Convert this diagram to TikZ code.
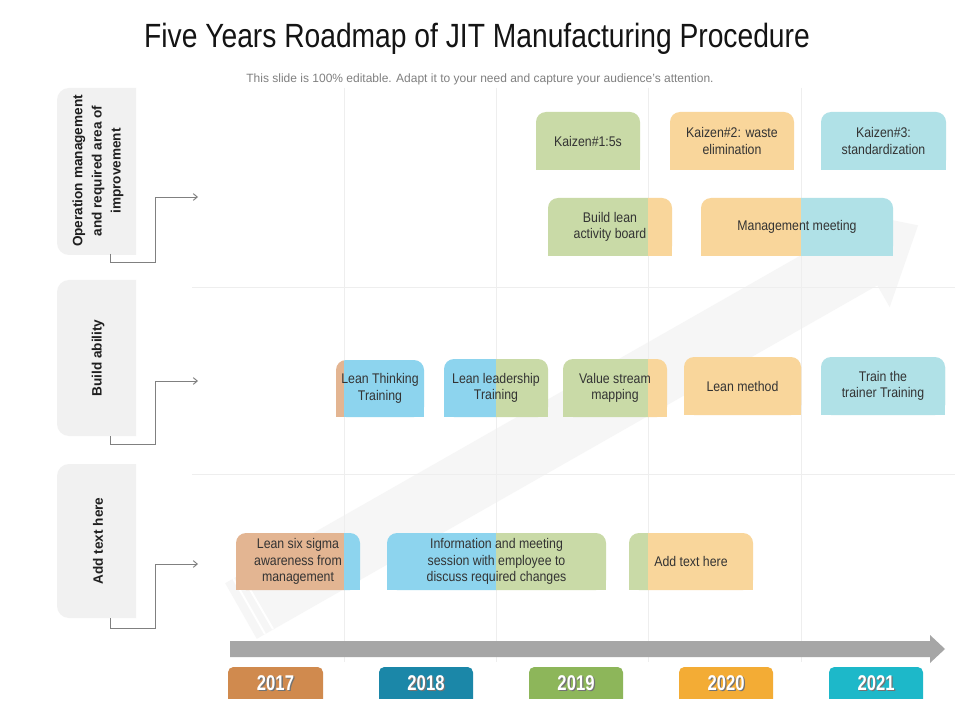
\documentclass[tikz,border=0pt]{standalone}
\usepackage{fontspec}
\setmainfont{Liberation Sans}
\newfontfamily\narrowfont{Liberation Sans}[FakeStretch=0.88]
\newfontfamily\yearfont{Liberation Sans}[FakeStretch=0.78]
\newfontfamily\titlefont{Liberation Sans}[FakeStretch=0.84]
\usetikzlibrary{arrows.meta}
\definecolor{cTan}{HTML}{E3B592}
\definecolor{cBlue}{HTML}{8DD4EE}
\definecolor{cGreen}{HTML}{C9DAA7}
\definecolor{cOrange}{HTML}{F9D69B}
\definecolor{cCyan}{HTML}{B0E1E7}
\definecolor{yTan}{HTML}{D08A4E}
\definecolor{yBlue}{HTML}{1B87A8}
\definecolor{yGreen}{HTML}{8DB65A}
\definecolor{yOrange}{HTML}{F3AC35}
\definecolor{yCyan}{HTML}{1DB8C9}
\definecolor{labelbg}{HTML}{F1F1F1}
\definecolor{gridc}{HTML}{EEEEEE}
\definecolor{bgarrow}{HTML}{F6F6F6}
\definecolor{tline}{HTML}{A6A6A6}
\definecolor{conn}{HTML}{808080}
\definecolor{txt}{HTML}{333333}
\tikzset{
  boxtext/.style={font=\narrowfont\fontsize{10.5}{12.4}\selectfont, text=txt, align=center, inner sep=0pt},
  labeltext/.style={font=\bfseries\fontsize{10.2}{14.3}\selectfont, text=black!88, align=center, rotate=90, inner sep=0pt},
  yeartext/.style={font=\yearfont\bfseries\fontsize{16}{18}\selectfont, text=white, inner sep=0pt},
  yearshadow/.style={font=\yearfont\bfseries\fontsize{16}{18}\selectfont, text=black!55, inner sep=0pt},
  connline/.style={draw=conn, line width=0.7pt, -{Straight Barb[length=3pt,width=5pt]}},
  gridline/.style={draw=gridc, line width=0.6pt}
}
\newcommand\tlbox[9]{%
  \begin{scope}
    \clip (#2,#3) rectangle (#6,#5);
    \fill[#7, rounded corners=7.5pt] (#2,#3) rectangle (#4,#5);
    \fill[#7] (#2,{(#3+#5)/2}) rectangle (#4,#5);
  \end{scope}
  \begin{scope}
    \clip (#6,#3) rectangle (#4,#5);
    \fill[#8, rounded corners=7.5pt] (#2,#3) rectangle (#4,#5);
    \fill[#8] (#2,{(#3+#5)/2}) rectangle (#4,#5);
  \end{scope}
  \node[boxtext] (#1) at ({(#2+#4)/2},{(#3+#5)/2}) {#9};
}
\newcommand\yearbox[5]{%
  \begin{scope}
    \clip (#2,667) rectangle (#3,698);
    \fill[#4, rounded corners=4pt] (#2,667) rectangle (#3,710);
  \end{scope}
  \node[yearshadow] (#1s) at ({(#2+#3)/2+1.3},684.3) {#5};
  \node[yeartext] (#1) at ({(#2+#3)/2},683) {#5};
}
\newcommand\labelbox[3]{%
  \begin{scope}
    \clip (57,#1) rectangle (136,#2);
    \fill[labelbg, rounded corners=9pt] (57,#1) rectangle (170,#2);
  \end{scope}
}
\begin{document}
\begin{tikzpicture}[x=0.75pt,y=-0.75pt]
\useasboundingbox (0,0) rectangle (960,720);
\fill[white] (0,0) rectangle (960,720);

% faint background arrow
\fill[bgarrow] (225.2,583.2) -- (845.7,229.8) -- (833.3,208.1) -- (918,225.4)
  -- (889.7,307.1) -- (877.3,285.4) -- (256.8,638.8) -- cycle;
\draw[white, line width=1.5pt] (233,578) -- (265,634);
\draw[white, line width=1.5pt] (241,574) -- (273,629);

% grid
\foreach \gx in {344,496,648,801} { \draw[gridline] (\gx,88) -- (\gx,662); }
\draw[gridline] (192,287) -- (955,287);
\draw[gridline] (192,474) -- (955,474);

% title
\node[font=\titlefont\fontsize{25.2}{30}\selectfont, text=black!92, inner sep=0pt] (title) at (477,39) {Five Years Roadmap of JIT Manufacturing Procedure};
\node[font=\fontsize{9}{10}\selectfont, text=black!50, inner sep=0pt] (subtitle) at (480,79) {This slide is 100\% editable. Adapt it to your need and capture your audience’s attention.};

% left labels
\labelbox{88}{255}{}
\labelbox{280}{436}{}
\labelbox{464}{618}{}
\node[labeltext] (lab1) at (98,171) {Operation management\\and required area of\\improvement};
\node[labeltext] (lab2) at (98,358) {Build ability};
\node[labeltext] (lab3) at (98,541) {Add text here};

\coordinate (s1) at (110,254); \coordinate (e1) at (198,197);
\coordinate (s2) at (110,436); \coordinate (e2) at (198,381);
\coordinate (s3) at (110,618); \coordinate (e3) at (198,564);
\draw[connline] (s1) |- (155,262) |- (e1);
\draw[connline] (s2) |- (155,444) |- (e2);
\draw[connline] (s3) |- (155,628) |- (e3);

% boxes
\tlbox{k1}{536}{112}{640}{170}{640}{cGreen}{cGreen}{Kaizen\#1:5s}
\tlbox{k2}{670}{112}{794}{170}{794}{cOrange}{cOrange}{Kaizen\#2: waste\\elimination}
\tlbox{k3}{821}{112}{946}{170}{946}{cCyan}{cCyan}{Kaizen\#3:\\standardization}
\tlbox{b1}{548}{198}{672}{256}{648}{cGreen}{cOrange}{Build lean\\activity board}
\tlbox{m1}{701}{198}{893}{256}{801}{cOrange}{cCyan}{Management meeting}
\tlbox{lt}{336}{360}{424}{417}{344}{cTan}{cBlue}{Lean Thinking\\Training}
\tlbox{ll}{444}{359}{548}{417}{496}{cBlue}{cGreen}{Lean leadership\\Training}
\tlbox{vs}{563}{359}{667}{417}{648}{cGreen}{cOrange}{Value stream\\mapping}
\tlbox{lm}{684}{357}{801}{415}{801}{cOrange}{cOrange}{Lean method}
\tlbox{tt}{821}{357}{945}{415}{945}{cCyan}{cCyan}{Train the\\trainer Training}
\tlbox{ls}{236}{533}{360}{590}{344}{cTan}{cBlue}{Lean six sigma\\awareness from\\management}
\tlbox{im}{387}{533}{606}{590}{496}{cBlue}{cGreen}{Information and meeting\\session with employee to\\discuss required changes}
\tlbox{addt}{629}{533}{753}{590}{648}{cGreen}{cOrange}{Add text here}

% timeline arrow
\fill[tline] (230,641) -- (930,641) -- (930,635) -- (945,649) -- (930,663) -- (930,657) -- (230,657) -- cycle;

% years
\yearbox{y17}{228}{323}{yTan}{2017}
\yearbox{y18}{379}{473}{yBlue}{2018}
\yearbox{y19}{529}{623}{yGreen}{2019}
\yearbox{y20}{679}{773}{yOrange}{2020}
\yearbox{y21}{829}{923}{yCyan}{2021}
\end{tikzpicture}
\end{document}
